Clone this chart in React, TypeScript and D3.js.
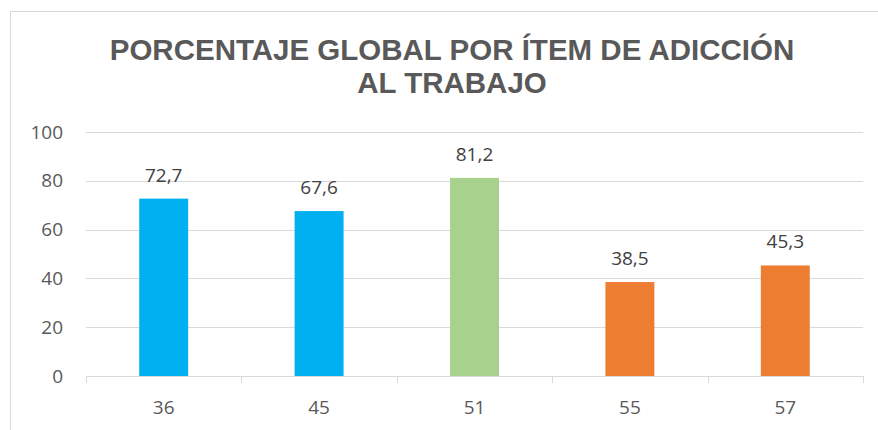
import React, { useEffect, useRef } from "react";
import * as d3 from "d3";

// chart data
const categories = ["36", "45", "51", "55", "57"];
const values = [72.7, 67.6, 81.2, 38.5, 45.3];
const barColors = ["#00B0F0", "#00B0F0", "#A9D18E", "#ED7D31", "#ED7D31"];
const yTicks = [0, 20, 40, 60, 80, 100];
const titleLines = ["PORCENTAJE GLOBAL POR ÍTEM DE ADICCIÓN", "AL TRABAJO"];

export default function App() {
    const svgRef = useRef<SVGSVGElement>(null);

    useEffect(() => {
        const svg = d3.select(svgRef.current);
        svg.selectAll("*").remove();

        const width = 878;
        const height = 430;
        const margin = { top: 132, right: 15, bottom: 54, left: 86 };
        const textColor = "#595959";

        // outer chart border (cropped on the right and bottom)
        svg.append("rect")
            .attr("x", 10.5)
            .attr("y", 11.5)
            .attr("width", width + 20)
            .attr("height", height + 20)
            .attr("fill", "#fff")
            .attr("stroke", "#d9d9d9")
            .attr("stroke-width", 1);

        // title
        svg.append("g")
            .selectAll("text")
            .data(titleLines)
            .join("text")
            .attr("x", 452)
            .attr("y", (d, i) => 60 + i * 33)
            .attr("text-anchor", "middle")
            .attr("font-family", "Liberation Sans, Arial, sans-serif")
            .attr("font-weight", "bold")
            .attr("font-size", 29.5)
            .attr("fill", textColor)
            .text((d) => d);

        const x = d3.scaleBand()
            .domain(categories)
            .range([margin.left, width - margin.right])
            .paddingInner(0.685)
            .paddingOuter(0.3425);

        const y = d3.scaleLinear()
            .domain([0, 100])
            .range([height - margin.bottom, margin.top]);

        // gridlines
        svg.append("g")
            .selectAll("line")
            .data(yTicks)
            .join("line")
            .attr("x1", margin.left)
            .attr("x2", width - margin.right)
            .attr("y1", (d) => Math.round(y(d)) + 0.5)
            .attr("y2", (d) => Math.round(y(d)) + 0.5)
            .attr("stroke", "#d9d9d9")
            .attr("stroke-width", 1);

        // y labels
        svg.append("g")
            .selectAll("text")
            .data(yTicks)
            .join("text")
            .attr("x", 63)
            .attr("y", (d) => y(d))
            .attr("dy", "0.35em")
            .attr("text-anchor", "end")
            .attr("font-family", "Open Sans, sans-serif")
            .attr("font-size", 19)
            .attr("fill", textColor)
            .text((d) => d);

        // bars
        svg.append("g")
            .selectAll("rect")
            .data(values)
            .join("rect")
            .attr("x", (d, i) => x(categories[i])!)
            .attr("y", (d) => y(d))
            .attr("width", x.bandwidth())
            .attr("height", (d) => y(0) - y(d))
            .attr("fill", (d, i) => barColors[i]);

        // value labels
        svg.append("g")
            .selectAll("text")
            .data(values)
            .join("text")
            .attr("x", (d, i) => x(categories[i])! + x.bandwidth() / 2)
            .attr("y", (d) => y(d) - 17)
            .attr("text-anchor", "middle")
            .attr("font-family", "Open Sans, sans-serif")
            .attr("font-size", 19)
            .attr("fill", "#404040")
            .text((d) => d.toFixed(1).replace(".", ","));

        // x axis with ticks between categories
        const step = x.step();
        const boundaries = d3.range(categories.length + 1).map((i) => margin.left + i * step);
        const axis = svg.append("g");
        axis.append("line")
            .attr("x1", margin.left)
            .attr("x2", width - margin.right)
            .attr("y1", Math.round(y(0)) + 0.5)
            .attr("y2", Math.round(y(0)) + 0.5)
            .attr("stroke", "#d9d9d9");
        axis.selectAll("line.tick")
            .data(boundaries)
            .join("line")
            .attr("class", "tick")
            .attr("x1", (d) => Math.round(d) + 0.5)
            .attr("x2", (d) => Math.round(d) + 0.5)
            .attr("y1", y(0))
            .attr("y2", y(0) + 7)
            .attr("stroke", "#d9d9d9");
        axis.selectAll("text")
            .data(categories)
            .join("text")
            .attr("x", (d) => x(d)! + x.bandwidth() / 2)
            .attr("y", y(0) + 31)
            .attr("dy", "0.35em")
            .attr("text-anchor", "middle")
            .attr("font-family", "Open Sans, sans-serif")
            .attr("font-size", 19)
            .attr("fill", textColor)
            .text((d) => d);
    }, []);

    return (
        <div style={{ position: "fixed", left: 0, top: 0 }}>
            <svg ref={svgRef} width={878} height={430} style={{ display: "block" }}></svg>
        </div>
    );
}
